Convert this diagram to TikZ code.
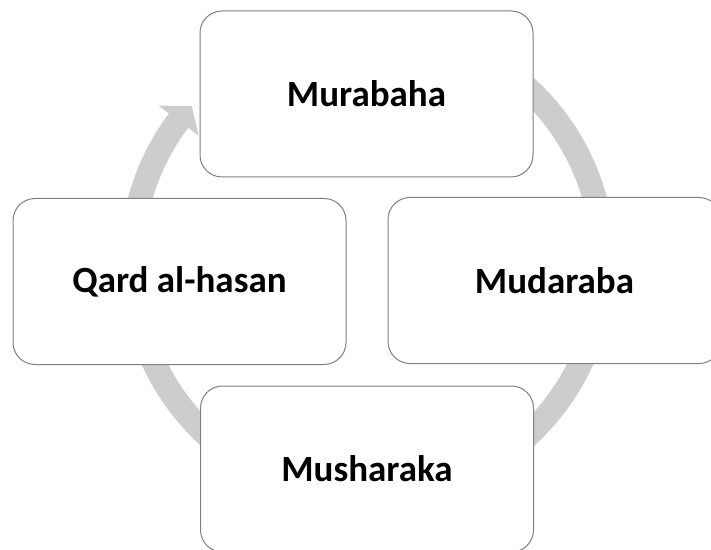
\documentclass[tikz,border=0pt]{standalone}
\usepackage{fontspec}
\setmainfont{Carlito}
\usetikzlibrary{calc}
\begin{document}
\begin{tikzpicture}[x=1pt,y=1pt,
  box/.style={draw=boxgray, line width=1pt, fill=white, rounded corners=22pt,
    minimum width=333pt, minimum height=166pt, inner sep=0pt,
    font=\fontsize{37}{41}\selectfont\bfseries},
  ringstyle/.style={ringgray}]
\definecolor{boxgray}{RGB}{128,128,128}
\definecolor{ringgray}{RGB}{205,205,205}
\clip (0,0) rectangle (711,549);
\coordinate (C) at (367.5,287);
% cycle arrow shaft
\draw[ringstyle, line width=24pt, line cap=butt]
  ($(C)+(110:236)$) arc[start angle=110, end angle=-217, radius=236];
% arrow head
\fill[ringstyle] ($(C)+(143.2:211)$) -- ($(C)+(143.2:261)$) -- ($(C)+(138.4:235)$) -- cycle;
% boxes
\node[box] (mur) at (366.5,455) {Murabaha};
\node[box] (mud) at (554.5,268.5) {Mudaraba};
\node[box] (mus) at (367,80) {Musharaka};
\node[box] (qar) at (179.5,267.5) {Qard al-hasan};
\end{tikzpicture}
\end{document}
